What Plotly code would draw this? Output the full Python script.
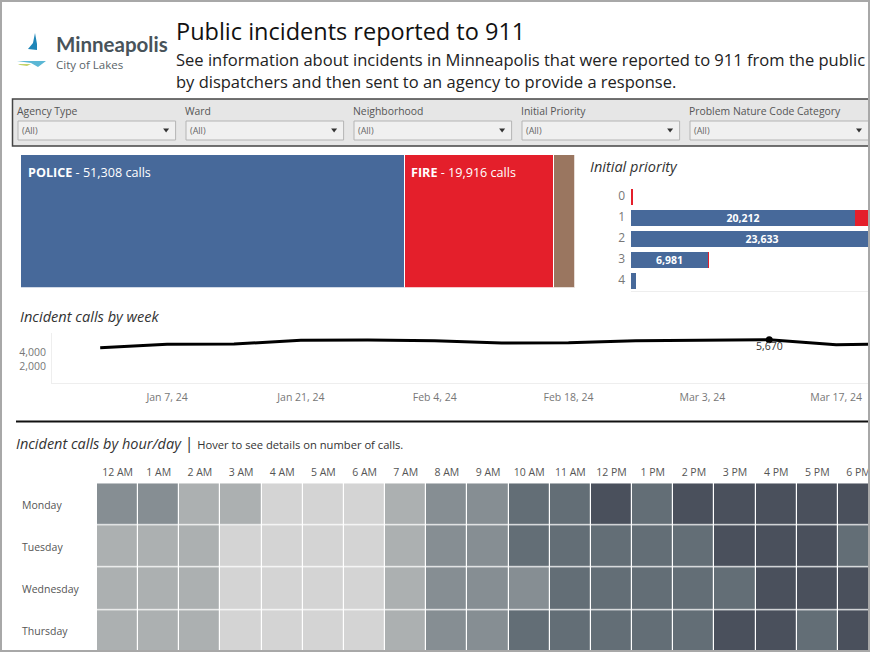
import plotly.graph_objects as go

# ---- data ----
AGENCIES = ["POLICE", "FIRE", "OTHER"]
AGENCY_CALLS = [51308, 19916, 2700]
AGENCY_COLORS = ["#47699a", "#e41f2b", "#9a7660"]

PRIORITIES = ["0", "1", "2", "3", "4"]
PRIORITY_POLICE = [0, 20212, 23633, 6981, 482]
PRIORITY_FIRE = [120, 7000, 3000, 10, 0]

WEEKS = ["2023-12-31", "2024-01-07", "2024-01-14", "2024-01-21", "2024-01-28", "2024-02-04",
         "2024-02-11", "2024-02-18", "2024-02-25", "2024-03-03", "2024-03-10", "2024-03-17", "2024-03-24"]
WEEK_CALLS = [4585, 5045, 5090, 5590, 5630, 5540, 5225, 5265, 5540, 5560, 5670, 4995, 5130]
WEEK_TICKS = ["2024-01-07", "2024-01-21", "2024-02-04", "2024-02-18", "2024-03-03", "2024-03-17"]
WEEK_TICKTEXT = ["Jan 7, 24", "Jan 21, 24", "Feb 4, 24", "Feb 18, 24", "Mar 3, 24", "Mar 17, 24"]

HOURS = ["12 AM", "1 AM", "2 AM", "3 AM", "4 AM", "5 AM", "6 AM", "7 AM", "8 AM", "9 AM", "10 AM",
         "11 AM", "12 PM", "1 PM", "2 PM", "3 PM", "4 PM", "5 PM", "6 PM"]
DAYS = ["Monday", "Tuesday", "Wednesday", "Thursday"]
MONDAY = [3, 3, 2, 2, 1, 1, 1, 2, 3, 3, 4, 4, 5, 4, 5, 5, 5, 5, 5]
TUESDAY = [2, 2, 2, 1, 1, 1, 1, 2, 3, 3, 4, 4, 4, 4, 4, 5, 5, 5, 4]
WEDNESDAY = [2, 2, 2, 1, 1, 1, 1, 2, 3, 3, 3, 4, 4, 4, 4, 4, 5, 5, 5]
THURSDAY = [2, 2, 2, 1, 1, 1, 1, 2, 3, 3, 4, 4, 4, 4, 4, 5, 5, 4, 5]
LEVEL_COLORS = ["#d4d4d4", "#acb0b1", "#868e93", "#636e76", "#4a505c"]

FILTERS = ["Agency Type", "Ward", "Neighborhood", "Initial Priority", "Problem Nature Code Category"]

# ---- helpers: page pixels -> paper fractions ----
W, H = 870, 652
def px(x): return x / W
def py(y): return 1 - y / H
def dom_x(a, b): return [px(a), px(b)]
def dom_y(top, bottom): return [py(bottom), py(top)]

FONT = "Open Sans"
shapes, ann = [], []

def text(x, y, s, size=11, color="#555555", anchor="left", family=FONT, yanchor="middle"):
    ann.append(dict(x=px(x), y=py(y), xref="paper", yref="paper", text=s, showarrow=False,
                    xanchor=anchor, yanchor=yanchor, align=anchor, xshift=0,
                    font=dict(size=size, color=color, family=family), borderpad=0, borderwidth=0))

def rect(x0, y0, x1, y1, fill=None, line=None, lw=1, layer="below"):
    shapes.append(dict(type="rect", xref="paper", yref="paper", x0=px(x0), x1=px(x1), y0=py(y0), y1=py(y1),
                       fillcolor=fill or "rgba(0,0,0,0)", line=dict(color=line or "rgba(0,0,0,0)", width=lw if line else 0),
                       layer=layer))

def poly(pts, fill, layer="below"):
    d = "M " + " L ".join(f"{px(a):.5f},{py(b):.5f}" for a, b in pts) + " Z"
    shapes.append(dict(type="path", xref="paper", yref="paper", path=d, fillcolor=fill, line=dict(width=0), layer=layer))

fig = go.Figure()

# ---- agency block ----
for name, val, col in zip(AGENCIES, AGENCY_CALLS, AGENCY_COLORS):
    fig.add_trace(go.Bar(x=[val], y=["calls"], orientation="h", marker=dict(color=col, line=dict(color="white", width=1)),
                         xaxis="x", yaxis="y", name=name, showlegend=False))
text(28, 172, f"<b>POLICE</b> - {AGENCY_CALLS[0]:,} calls", 12.6, "white")
text(411, 172, f"<b>FIRE</b> - {AGENCY_CALLS[1]:,} calls", 12.6, "white")

# ---- priority ----
BAR_W = 16 / 21
fig.add_trace(go.Bar(x=PRIORITY_POLICE, y=PRIORITIES, orientation="h", width=BAR_W,
                     marker=dict(color=AGENCY_COLORS[0], line=dict(width=0)),
                     xaxis="x2", yaxis="y2", showlegend=False,
                     text=[f"<b>{v:,}</b>" if v > 1000 else "" for v in PRIORITY_POLICE], textposition="inside",
                     insidetextanchor="middle", constraintext="none", textangle=0,
                     insidetextfont=dict(color="white", size=10.5, family=FONT), cliponaxis=True))
fig.add_trace(go.Bar(x=PRIORITY_FIRE, y=PRIORITIES, orientation="h", width=BAR_W,
                     marker=dict(color=AGENCY_COLORS[1], line=dict(width=0)),
                     xaxis="x2", yaxis="y2", showlegend=False))
rect(631, 291, 868, 292, fill="#eeeeee")

# ---- weekly line ----
fig.add_trace(go.Scatter(x=WEEKS, y=WEEK_CALLS, mode="lines", line=dict(color="black", width=3),
                         xaxis="x3", yaxis="y3", showlegend=False))
peak = WEEK_CALLS.index(max(WEEK_CALLS))
fig.add_trace(go.Scatter(x=[WEEKS[peak]], y=[WEEK_CALLS[peak]], mode="markers", marker=dict(color="black", size=7),
                         xaxis="x3", yaxis="y3", showlegend=False))
ann.append(dict(x=WEEKS[peak], y=WEEK_CALLS[peak], xref="x3", yref="y3", text=f"{WEEK_CALLS[peak]:,}", showarrow=False,
                yshift=-6, font=dict(size=10.5, color="#333333", family=FONT)))

# ---- heatmap ----
n = len(LEVEL_COLORS)
scale = []
for i, c in enumerate(LEVEL_COLORS):
    scale += [[i / n, c], [(i + 1) / n, c]]
fig.add_trace(go.Heatmap(z=[MONDAY, TUESDAY, WEDNESDAY, THURSDAY], x=HOURS, y=DAYS, colorscale=scale, zmin=0.5, zmax=5.5,
                         showscale=False, xgap=1.2, ygap=1.2, xaxis="x4", yaxis="y4"))
for d, yy in zip(DAYS, [505, 547, 589, 631]):
    text(22, yy, d, 10.5, "#555555")

# ---- page furniture ----
text(176, 31, "Public incidents reported to 911", 23.5, "#111111")
text(176, 59, "See information about incidents in Minneapolis that were reported to 911 from the public", 16.55, "#222222")
text(176, 82, "by dispatchers and then sent to an agency to provide a response.", 16.5, "#222222")

text(56, 43.5, "<b>Minneapolis</b>", 20.5, "#48535a", family="Lato")
text(56, 65, "City of Lakes", 11.5, "#5a6468")
poly([(35, 33), (33, 43), (28, 49), (37, 50), (37, 44)], "#1f86b8")
poly([(17, 61), (46, 61), (38, 67), (31, 63)], "#5bb7d5")
poly([(18, 64), (31, 64), (27, 66), (20, 65)], "#c3d36a")

rect(12.5, 99, 869, 146, fill="#e6e6e6", line="#444444", lw=1.5)
for i, lab in enumerate(FILTERS):
    x0 = 18 + 168 * i
    x1 = 868.5 if i == len(FILTERS) - 1 else x0 + 157.6
    text(x0 - 1, 111, lab, 10.4, "#555555")
    rect(x0, 121, x1, 140, fill="#f0f0f0", line="#b4b4b4", lw=1)
    text(x0 + 4, 130.5, "(All)", 9, "#666666")
    ax = x1 - 9.5
    poly([(ax - 3, 128.5), (ax + 3, 128.5), (ax, 132.5)], "#333333")

text(590, 167, "<i>Initial priority</i>", 14.5, "#333333")
text(20, 316, "<i>Incident calls by week</i>", 14.6, "#333333")
text(16, 442.5, "<i>Incident calls by hour/day</i> <span style='font-size:16px'>|</span> "
                "<span style='font-size:11.2px'>Hover to see details on number of calls.</span>", 14.5, "#333333")

rect(16, 420.5, 868, 422.5, fill="#111111")
# outer frame
rect(0, 0, 2, H, fill="#a8a8a8", layer="above")
rect(0, 0, W, 2, fill="#a8a8a8", layer="above")
rect(868, 0, W, H, fill="#a8a8a8", layer="above")
rect(0, 650, W, H, fill="#a8a8a8", layer="above")

hidden = dict(visible=False, fixedrange=True)
tick_font = dict(size=10.5, color="#777777", family=FONT)

fig.update_layout(
    width=W, height=H, margin=dict(l=0, r=0, t=0, b=0, autoexpand=False), autosize=False,
    paper_bgcolor="white", plot_bgcolor="rgba(0,0,0,0)", barmode="stack", showlegend=False,
    font=dict(family=FONT), shapes=shapes, annotations=ann,
    xaxis=dict(domain=dom_x(21, 574.5), range=[0, sum(AGENCY_CALLS)], **hidden),
    yaxis=dict(domain=dom_y(155, 287.5), **hidden),
    bargap=0,
    xaxis2=dict(domain=dom_x(631, 868), range=[0, 21390], visible=False, fixedrange=True),
    yaxis2=dict(domain=dom_y(185.5, 290.5), autorange=False, range=[4.5, -0.5], anchor="x2", ticks="",
                showgrid=False, zeroline=False, showline=False, tickfont=dict(size=12, color="#777777", family=FONT),
                ticklabelstandoff=5, type="category", fixedrange=True),
    xaxis3=dict(domain=dom_x(52, 868), type="date", range=["2023-12-25 23:00", "2024-03-20 08:00"],
                tickvals=WEEK_TICKS, ticktext=WEEK_TICKTEXT, ticks="", showgrid=False, zeroline=False,
                showline=True, linecolor="#eeeeee", linewidth=1, tickfont=tick_font, anchor="y3", ticklabelstandoff=4,
                fixedrange=True),
    yaxis3=dict(domain=dom_y(333, 383), range=[-218, 6585], tickvals=[2000, 4000], tickformat=",", ticks="",
                showgrid=False, zeroline=False, showline=True, linecolor="#eeeeee", linewidth=1,
                tickfont=tick_font, anchor="x3", ticklabelstandoff=3, fixedrange=True),
    xaxis4=dict(domain=dom_x(97, 868), side="top", range=[-0.5, 18.23], type="category", ticks="", showgrid=False,
                zeroline=False, showline=False, tickfont=dict(size=10.5, color="#555555", family=FONT), anchor="y4",
                ticklabelstandoff=4, fixedrange=True),
    yaxis4=dict(domain=dom_y(483.3, 652), range=[3.5, -0.5], type="category", visible=False, anchor="x4", fixedrange=True),
)

fig.write_html("out.html", config={"displayModeBar": False},
               post_script="document.body.style.margin='0';document.documentElement.style.overflow='hidden';")
